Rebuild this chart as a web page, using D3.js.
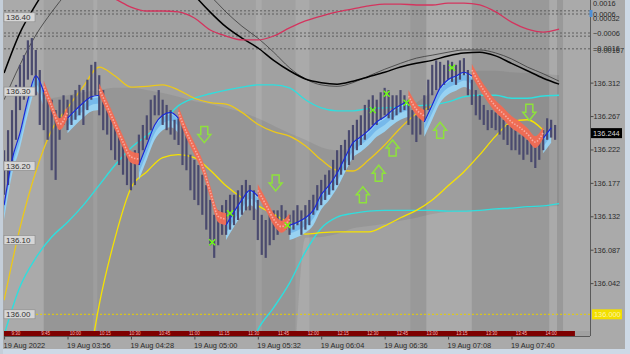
<!doctype html>
<html>
<head>
<meta charset="utf-8">
<script src="https://d3js.org/d3.v7.min.js"></script>
<style>
body { margin: 0; background: #cdd9e6; }
svg { display: block; }
</style>
</head>
<body>
<script>
// ---- data ----
// price bars, one every 2 minutes from 03:24
var barStart = "03:24";
var hi = [136.221,136.248,136.275,136.309,136.336,136.349,136.369,136.372,136.356,136.329,
  136.302,136.295,136.289,136.275,136.289,136.295,136.289,136.295,136.302,136.309,
  136.302,136.316,136.336,136.340,136.322,136.302,136.275,136.262,136.255,136.248,
  136.235,136.221,136.208,136.221,136.242,136.255,136.268,136.289,136.295,136.302,
  136.289,136.282,136.275,136.262,136.264,136.255,136.242,136.215,136.208,136.201,
  136.188,136.174,136.154,136.134,136.140,136.147,136.154,136.161,136.161,136.167,
  136.174,136.181,136.174,136.167,136.154,136.134,136.127,136.134,136.140,136.140,
  136.147,136.140,136.134,136.140,136.147,136.140,136.147,136.154,136.161,136.174,
  136.181,136.188,136.194,136.208,136.221,136.228,136.235,136.248,136.255,136.262,
  136.268,136.282,136.289,136.295,136.289,136.299,136.305,136.302,136.295,136.295,
  136.302,136.295,136.289,136.275,136.268,136.275,136.295,136.316,136.336,136.342,
  136.340,136.336,136.342,136.340,136.336,136.342,136.345,136.329,136.316,136.302,
  136.295,136.282,136.275,136.275,136.272,136.268,136.262,136.255,136.255,136.248,
  136.242,136.242,136.235,136.235,136.228,136.235,136.248,136.264,136.262,136.255];
var lo = [136.161,136.174,136.194,136.235,136.275,136.289,136.316,136.322,136.295,136.255,
  136.248,136.235,136.194,136.181,136.235,136.255,136.248,136.255,136.262,136.268,
  136.255,136.275,136.289,136.295,136.268,136.248,136.242,136.221,136.208,136.201,
  136.188,136.174,136.167,136.174,136.201,136.221,136.235,136.248,136.268,136.268,
  136.255,136.248,136.242,136.235,136.228,136.201,136.194,136.167,136.154,136.147,
  136.134,136.114,136.093,136.076,136.093,136.107,136.107,136.114,136.120,136.127,
  136.134,136.140,136.140,136.127,136.100,136.080,136.076,136.093,136.100,136.107,
  136.111,136.114,136.107,136.114,136.120,136.107,136.114,136.120,136.134,136.140,
  136.147,136.154,136.161,136.167,136.174,136.188,136.194,136.201,136.208,136.221,
  136.228,136.235,136.248,136.255,136.255,136.262,136.268,136.264,136.262,136.268,
  136.272,136.275,136.255,136.242,136.232,136.242,136.262,136.275,136.295,136.302,
  136.305,136.309,136.316,136.313,136.309,136.316,136.322,136.295,136.282,136.268,
  136.262,136.255,136.248,136.251,136.248,136.242,136.235,136.228,136.221,136.221,
  136.215,136.208,136.215,136.205,136.197,136.208,136.221,136.235,136.238,136.235];

// trend ribbon average, one every 4 minutes; 1 = up (blue), -1 = down (red)
var ma = [136.147,136.208,136.244,136.289,136.321,136.299,136.272,136.248,136.264,136.275,
  136.285,136.293,136.295,136.272,136.248,136.224,136.204,136.201,136.228,136.255,
  136.268,136.272,136.264,136.237,136.215,136.192,136.157,136.124,136.120,136.138,
  136.154,136.167,136.159,136.140,136.120,136.110,136.120,136.124,136.130,136.140,
  136.161,136.174,136.190,136.211,136.231,136.239,136.248,136.259,136.266,136.275,
  136.282,136.286,136.268,136.259,136.282,136.305,136.316,136.321,136.326,136.321,
  136.302,136.286,136.272,136.262,136.251,136.244,136.235,136.224,136.237,136.251];
var trend = [1,1,1,1,1,-1,-1,-1,1,1,1,1,-1,-1,-1,-1,-1,1,1,1,1,1,
  -1,-1,-1,-1,-1,-1,1,1,1,1,-1,-1,-1,-1,
  1,1,1,1,1,1,1,1,1,1,1,1,1,1,1,-1,-1,1,1,1,1,1,1,
  -1,-1,-1,-1,-1,-1,-1,-1,-1,1,1];

// slow lines, one every 8 minutes from 03:24
var cyanUp = [135.972,136.037,136.076,136.104,136.124,136.147,136.174,136.201,136.224,136.241,
  136.259,136.281,136.291,136.297,136.302,136.306,136.309,136.309,136.305,136.289,
  136.278,136.274,136.274,136.277,136.278,136.279,136.281,136.282,136.286,136.293,
  136.295,136.295,136.291,136.291,136.294,136.295];
var cyanLo = [null,null,null,null,null,null,null,null,null,null,null,null,null,null,null,
  135.925,135.979,136.009,136.042,136.084,136.116,136.131,136.136,136.139,136.140,
  136.140,136.140,136.140,136.139,136.139,136.140,136.142,136.143,136.145,136.146,136.149];
var yellowA = [136.019,136.116,136.192,136.248,136.278,136.307,136.333,136.321,136.306,136.307,
  136.309,136.302,136.291,136.285,136.283,136.272,136.256,136.246,136.240,136.227,
  136.208,136.194,136.193,136.208,136.228,136.251,136.270,136.281,136.298,136.316,
  null,null,null,null,null,null];
var yellowB = [null,null,null,null,null,135.885,136.013,136.103,136.170,136.192,
  136.211,136.215,136.211,136.194,136.173,136.157,136.146,136.135,136.122,136.108,
  136.110,136.111,136.111,136.111,136.119,136.130,136.140,136.154,136.173,136.192,
  136.215,136.240,136.259,136.262,136.248,null];
var blackThick = [136.325,136.379,136.417,136.450,136.477,136.497,136.507,136.511,136.507,136.497,
  136.480,136.457,136.430,136.407,136.387,136.372,136.359,136.342,136.328,136.317,
  136.312,136.310,136.314,136.320,136.326,136.333,136.338,136.342,136.348,136.352,
  136.353,136.348,136.338,136.328,136.318,136.310];
var blackThin = [136.289,136.336,136.376,136.407,136.434,136.457,136.474,136.484,136.488,136.485,
  136.477,136.464,136.448,136.429,136.407,136.388,136.372,136.353,136.332,136.317,
  136.309,136.307,136.312,136.321,136.330,136.338,136.345,136.349,136.353,136.356,
  136.356,136.352,136.344,136.333,136.324,136.314];
var cloudTop = [null,null,136.289,136.291,136.295,136.299,136.302,136.305,136.305,136.302,
  136.298,136.293,136.287,136.283,136.278,136.272,136.264,136.254,136.244,136.235,
  136.225,136.221,136.224,136.235,136.251,136.268,136.285,136.299,136.313,136.324,
  136.328,136.328,136.326,136.325,136.324,136.322];
var cloudBot = [null,null,135.885,135.885,135.885,135.885,135.885,135.885,135.885,135.885,
  135.885,135.885,135.885,135.885,135.885,135.885,135.885,135.885,135.885,136.103,
  136.104,136.108,136.116,136.119,136.122,136.126,136.130,136.135,136.138,136.139,
  136.140,136.142,136.142,136.143,136.145,136.146];
// oscillator drawn over the top (own scale)
var osc = [null,null,null,null,null,null,0.00199,0.00155,0.00104,0.00079,
  0.00079,0.00073,0.00035,-0.00041,-0.00079,-0.00104,-0.00104,-0.00079,-0.00028,0.00016,
  0.00047,0.00073,0.00092,0.00111,0.00123,0.00123,0.00117,0.00117,0.00129,0.00129,
  0.00117,0.00073,0.00009,-0.00035,-0.00054,-0.00035];
var oscLevels = [0.0008, 0.0006, -0.0006, -0.0008, -0.0016];

var upArrows = [["06:25",136.161],["06:33",136.190],["06:40",136.224],["07:04",136.248]];
var downArrows = [["05:05",136.242],["05:41",136.177],["07:49",136.272]];
var crosses = [["05:09",136.097],["05:18",136.136],["05:47",136.120],["06:30",136.275],
  ["06:37",136.297],["06:47",136.285],["07:10",136.332]];

var lightBands = [["03:24","03:44"],["04:09","04:11"],["05:31","05:34"],["05:51","05:58"],
  ["06:57","07:20"],["07:59","08:03"],["08:06","08:21"]];
var darkBands = [["06:49","06:57"],["07:20","07:59"],["08:03","08:06"]];

var leftTicks = [136.40, 136.30, 136.20, 136.10, 136.00];
var rightTicks = [136.312, 136.267, 136.222, 136.177, 136.132, 136.087, 136.042];
var oscLabels = [0.0016, 0.0006, 0.00032, -0.0006, -0.0016, -0.00167];
var lastPrice = 136.244;
var levelPrice = 136.000;
var timeTicks = ["03:24","03:56","04:28","05:00","05:32","06:04","06:36","07:08","07:40"];
var sessionTimes = ["03:30","03:45","04:00","04:15","04:30","04:45","05:00","05:15","05:30","05:45",
  "06:00","06:15","06:30","06:45","07:00","07:15","07:30","07:45","08:00"];
var sessionLabels = ["9:30","9:45","10:00","10:15","10:30","10:45","11:00","11:15","11:30","11:45",
  "12:00","12:15","12:30","12:45","13:00","13:15","13:30","13:45","14:00"];

// ---- drawing ----
var width = 630, height = 354;
var plot = {left: 4, right: 590, top: 0, bottom: 336};
var font = "'Liberation Sans', Arial, sans-serif";

var parse = d3.timeParse("%Y-%m-%d %H:%M");
function T(s) { return parse("2022-08-19 " + s); }
var t0 = T(barStart);

var x = d3.scaleTime().domain([T("03:24"), T("07:40")]).range([4.1, 511.5]);
var y = d3.scaleLinear().domain([136.0, 136.4]).range([314.3, 17.3]);
var yo = d3.scaleLinear().domain([-0.0006, 0.0006]).range([33, 14]);

function barX(i) { return x(d3.timeMinute.offset(t0, 2 * i)); }
function maX(j) { return x(d3.timeMinute.offset(t0, 4 * j)); }
function slowX(k) { return x(d3.timeMinute.offset(t0, 8 * k)); }

var svg = d3.select("body").append("svg")
  .attr("width", width)
  .attr("height", height);

svg.append("rect").attr("width", width).attr("height", height).attr("fill", "#aaaaaa");
svg.append("rect").attr("x", 0).attr("y", 349).attr("width", width).attr("height", 5).attr("fill", "#cdd9e6");
svg.append("rect").attr("x", 0).attr("y", 0).attr("width", 3).attr("height", height).attr("fill", "#c4ced9");
svg.append("rect").attr("x", 625).attr("y", 0).attr("width", 5).attr("height", height).attr("fill", "#cdd9e6");

var defs = svg.append("defs");
defs.append("clipPath").attr("id", "plotclip").append("rect")
  .attr("x", plot.left).attr("y", plot.top)
  .attr("width", plot.right - plot.left).attr("height", 331);
defs.append("clipPath").attr("id", "cloudclip").append("rect")
  .attr("x", x(T("03:44"))).attr("y", plot.top)
  .attr("width", plot.right - x(T("03:44"))).attr("height", 331);

svg.append("rect")
  .attr("x", plot.left).attr("y", plot.top)
  .attr("width", plot.right - plot.left).attr("height", plot.bottom - plot.top)
  .attr("fill", "#a1a1a1");

var g = svg.append("g").attr("clip-path", "url(#plotclip)");

// session columns
g.selectAll("rect.light").data(lightBands).join("rect")
  .attr("x", function(d) { return x(T(d[0])); })
  .attr("width", function(d) { return x(T(d[1])) - x(T(d[0])); })
  .attr("y", plot.top).attr("height", plot.bottom)
  .attr("fill", "#aaaaaa");
g.selectAll("rect.dark").data(darkBands).join("rect")
  .attr("x", function(d) { return x(T(d[0])); })
  .attr("width", function(d) { return x(T(d[1])) - x(T(d[0])); })
  .attr("y", plot.top).attr("height", plot.bottom)
  .attr("fill", "#999999");

// gray cloud
var cloud = d3.area()
  .defined(function(d, k) { return cloudTop[k] != null; })
  .x(function(d, k) { return slowX(k); })
  .y0(function(d, k) { return y(cloudBot[k]); })
  .y1(function(d, k) { return y(cloudTop[k]); })
  .curve(d3.curveMonotoneX);
g.append("path").attr("clip-path", "url(#cloudclip)")
  .attr("d", cloud(cloudTop))
  .attr("fill", "#3c3c3c").attr("fill-opacity", 0.1);

// oscillator levels and 136.00 level
g.selectAll("line.lvl").data(oscLevels).join("line")
  .attr("x1", plot.left).attr("x2", plot.right)
  .attr("y1", function(d) { return yo(d); }).attr("y2", function(d) { return yo(d); })
  .attr("stroke", "#5e5e5e").attr("stroke-dasharray", "2,2").attr("stroke-width", 1);
g.append("line")
  .attr("x1", plot.left).attr("x2", plot.right)
  .attr("y1", y(levelPrice)).attr("y2", y(levelPrice))
  .attr("stroke", "#e6d000").attr("stroke-dasharray", "2,2").attr("stroke-width", 1);

function slowLine(arr, scale) {
  return d3.line()
    .defined(function(d) { return d != null; })
    .x(function(d, k) { return slowX(k); })
    .y(function(d) { return scale(d); })
    .curve(d3.curveMonotoneX)(arr);
}

g.append("path").attr("d", slowLine(blackThin, y)).attr("fill", "none").attr("stroke", "#3a3a3a").attr("stroke-width", 0.8);
g.append("path").attr("d", slowLine(blackThick, y)).attr("fill", "none").attr("stroke", "#000").attr("stroke-width", 1.5);
g.append("path").attr("d", slowLine(osc, yo)).attr("fill", "none").attr("stroke", "#d4345e").attr("stroke-width", 1.3);
g.append("path").attr("d", slowLine(cyanUp, y)).attr("fill", "none").attr("stroke", "#2fdede").attr("stroke-width", 1.4);
g.append("path").attr("d", slowLine(cyanLo, y)).attr("fill", "none").attr("stroke", "#2fdede").attr("stroke-width", 1.4);
g.append("path").attr("d", slowLine(yellowA, y)).attr("fill", "none").attr("stroke", "#ecc81a").attr("stroke-width", 1.3);
g.append("path").attr("d", slowLine(yellowB, y)).attr("fill", "none").attr("stroke", "#f6e200").attr("stroke-width", 1.3);

// ribbon segments
var segs = [], cur = null;
trend.forEach(function(f, j) {
  if (!cur || cur.f !== f) {
    if (cur) cur.idx.push(j);
    cur = {f: f, idx: [j]};
    segs.push(cur);
  } else {
    cur.idx.push(j);
  }
});

var blueBand = d3.area().x(function(j) { return maX(j); })
  .y0(function(j) { return y(ma[j] - 0.02); }).y1(function(j) { return y(ma[j]); })
  .curve(d3.curveMonotoneX);
var blueInner = d3.area().x(function(j) { return maX(j); })
  .y0(function(j) { return y(ma[j] - 0.011); }).y1(function(j) { return y(ma[j] - 0.003); })
  .curve(d3.curveMonotoneX);
var redBand = d3.area().x(function(j) { return maX(j); })
  .y0(function(j) { return y(ma[j]); }).y1(function(j) { return y(ma[j] + 0.016); })
  .curve(d3.curveMonotoneX);
var maLine = function(off) {
  return d3.line().x(function(j) { return maX(j); })
    .y(function(j) { return y(ma[j] + off); })
    .curve(d3.curveMonotoneX);
};

segs.filter(function(s) { return s.f > 0; }).forEach(function(s) {
  g.append("path").attr("d", blueBand(s.idx)).attr("fill", "#98d2f2");
  g.append("path").attr("d", blueInner(s.idx)).attr("fill", "#6eb3e8").attr("fill-opacity", 0.8);
});

// price bars
g.selectAll("line.bar").data(hi).join("line")
  .attr("x1", function(d, i) { return barX(i); })
  .attr("x2", function(d, i) { return barX(i); })
  .attr("y1", function(d) { return y(d); })
  .attr("y2", function(d, i) { return y(lo[i]); })
  .attr("stroke", "#4a4a6e").attr("stroke-width", 2.2);

segs.filter(function(s) { return s.f < 0; }).forEach(function(s) {
  g.append("path").attr("d", redBand(s.idx)).attr("fill", "#f36b53").attr("fill-opacity", 0.95);
  g.append("path").attr("d", maLine(0.008)(s.idx)).attr("fill", "none")
    .attr("stroke", "#f6aaa2").attr("stroke-width", 1.6).attr("stroke-dasharray", "1.5,1.5");
});
segs.filter(function(s) { return s.f > 0; }).forEach(function(s) {
  g.append("path").attr("d", maLine(0)(s.idx)).attr("fill", "none")
    .attr("stroke", "#1a28d6").attr("stroke-width", 1.2);
});

// signal arrows
var downPath = "M-3.5,-8L3.5,-8L3.5,0L6.5,0L0,8L-6.5,0L-3.5,0Z";
var upPath = "M-3.5,8L3.5,8L3.5,0L6.5,0L0,-8L-6.5,0L-3.5,0Z";
g.selectAll("path.dn").data(downArrows).join("path")
  .attr("d", downPath)
  .attr("transform", function(d) { return "translate(" + x(T(d[0])) + "," + y(d[1]) + ")"; })
  .attr("fill", "none").attr("stroke", "#8ee23c").attr("stroke-width", 1.5);
g.selectAll("path.up").data(upArrows).join("path")
  .attr("d", upPath)
  .attr("transform", function(d) { return "translate(" + x(T(d[0])) + "," + y(d[1]) + ")"; })
  .attr("fill", "none").attr("stroke", "#8ee23c").attr("stroke-width", 1.5);
g.selectAll("path.cross").data(crosses).join("path")
  .attr("d", "M-3,-3L3,3M3,-3L-3,3")
  .attr("transform", function(d) { return "translate(" + x(T(d[0])) + "," + y(d[1]) + ")"; })
  .attr("stroke", "#6cff10").attr("stroke-width", 1.3);

// session strip along the bottom
svg.append("rect")
  .attr("x", plot.left).attr("y", 331)
  .attr("width", x(T("08:12")) - plot.left).attr("height", 5)
  .attr("fill", "#7e0000");
svg.selectAll("text.sess").data(sessionLabels).join("text")
  .attr("x", function(d, i) { return x(T(sessionTimes[i])); })
  .attr("y", 335.3)
  .attr("text-anchor", "middle")
  .attr("font-family", font).attr("font-size", "4.5px")
  .attr("fill", "#ffb8b8")
  .text(function(d) { return d; });

// frame
svg.append("line").attr("x1", plot.left).attr("x2", plot.right).attr("y1", plot.bottom + 0.5).attr("y2", plot.bottom + 0.5)
  .attr("stroke", "#5a5a5a");
svg.append("line").attr("x1", plot.right + 0.5).attr("x2", plot.right + 0.5).attr("y1", 0).attr("y2", plot.bottom)
  .attr("stroke", "#5a5a5a");

// time axis
var fmt = d3.timeFormat("%H:%M");
var xAxis = d3.axisBottom(x)
  .tickValues(timeTicks.map(T))
  .tickSize(3)
  .tickFormat(function(d, i) { return i === 0 ? "19 Aug 2022" : "19 Aug " + fmt(d); });
var xg = svg.append("g").attr("transform", "translate(0," + (plot.bottom + 0.5) + ")").call(xAxis);
xg.select(".domain").remove();
xg.selectAll("line").attr("stroke", "#4a4a4a");
xg.selectAll("text")
  .attr("text-anchor", "start").attr("dx", "-1").attr("y", 6)
  .attr("font-family", font).attr("font-size", "7.4px").attr("fill", "#2a2a2a");

// right price axis
var yAxis = d3.axisRight(y).tickValues(rightTicks).tickSize(3).tickFormat(d3.format(".3f"));
var yg = svg.append("g").attr("transform", "translate(" + (plot.right + 0.5) + ",0)").call(yAxis);
yg.select(".domain").remove();
yg.selectAll("line").attr("stroke", "#4a4a4a");
yg.selectAll("text").attr("x", 3).attr("font-family", font).attr("font-size", "7.4px").attr("fill", "#2a2a2a");

// oscillator labels on the right
svg.append("rect").attr("x", plot.right - 0.5).attr("y", yo(0.0006) - 4).attr("width", 3).attr("height", 7).attr("fill", "#4f8fd6");
svg.selectAll("text.osc").data(oscLabels).join("text")
  .attr("x", plot.right + 3)
  .attr("y", function(d) { return Math.max(yo(d), 3); })
  .attr("dy", "0.35em")
  .attr("font-family", font).attr("font-size", "7.4px").attr("fill", "#2a2a2a")
  .text(function(d) { return d3.format(".5~f")(d); });

// left price labels inside the chart
var lt = svg.selectAll("g.lt").data(leftTicks).join("g")
  .attr("transform", function(d) { return "translate(4," + y(d) + ")"; });
lt.append("rect").attr("x", 0).attr("y", -4.5).attr("width", 31).attr("height", 9)
  .attr("fill", "#d6d6d6").attr("stroke", "#8a8a8a").attr("stroke-width", 0.6);
lt.append("text").attr("x", 2).attr("dy", "0.35em")
  .attr("font-family", font).attr("font-size", "8px").attr("fill", "#333")
  .text(function(d) { return d3.format(".2f")(d); });

// current price and level tags
var lp = svg.append("g").attr("transform", "translate(" + (plot.right + 1) + "," + y(lastPrice) + ")");
lp.append("rect").attr("x", 0).attr("y", -5).attr("width", 31).attr("height", 10).attr("fill", "#000");
lp.append("text").attr("x", 2).attr("dy", "0.35em").attr("font-family", font).attr("font-size", "7.4px")
  .attr("fill", "#d8d8d8").text(d3.format(".3f")(lastPrice));
var lv = svg.append("g").attr("transform", "translate(" + (plot.right + 2) + "," + y(levelPrice) + ")");
lv.append("rect").attr("x", 0).attr("y", -5).attr("width", 30).attr("height", 10).attr("fill", "#f2df00");
lv.append("text").attr("x", 2).attr("dy", "0.35em").attr("font-family", font).attr("font-size", "7.4px")
  .attr("fill", "#fff6a8").text(d3.format(".3f")(levelPrice));
</script>
</body>
</html>
